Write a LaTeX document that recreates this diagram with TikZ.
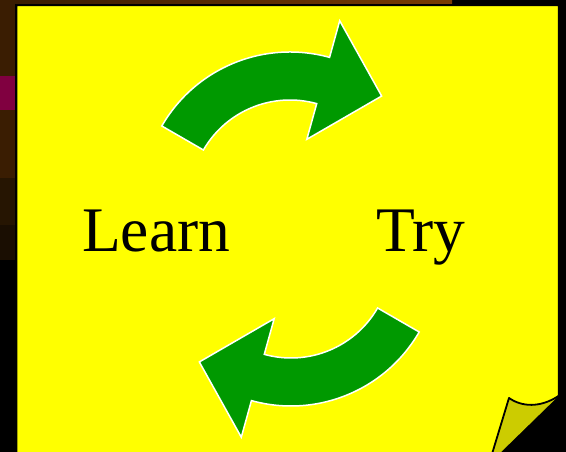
\documentclass[tikz,border=0pt]{standalone}
\usepackage{fontspec}
\setmainfont{Liberation Serif}
\definecolor{noteyellow}{HTML}{FFFF00}
\definecolor{curlolive}{HTML}{CCCC00}
\definecolor{arrowgreen}{HTML}{009900}
\definecolor{barbrown}{HTML}{3A1D02}
\definecolor{bardark}{HTML}{261502}
\definecolor{bardarker}{HTML}{1A0E02}
\definecolor{barplum}{HTML}{800040}
\definecolor{toporange}{HTML}{7A3C02}
\tikzset{
  cyclearrow/.style={fill=arrowgreen, draw=white, line width=1.5pt, line join=miter},
  bigword/.style={font=\fontsize{63.5}{70}\selectfont, inner sep=0pt, anchor=base west}
}
\begin{document}
\begin{tikzpicture}[x=1pt, y=1pt]
        \useasboundingbox (0,0) rectangle (566,452);
        \fill[black] (0,0) rectangle (566,452);
        % strips of the window behind the note
        \fill[barbrown] (0,376) rectangle (15,452);
        \fill[barplum] (0,342) rectangle (15,376);
        \fill[barbrown] (0,274) rectangle (15,342);
        \fill[bardark] (0,227) rectangle (15,274);
        \fill[bardarker] (0,192) rectangle (15,227);
        \shade[left color=barbrown, right color=toporange] (15,448.5) rectangle (452,452);
        % the note with its curled corner
        \draw[line width=1.5pt, fill=noteyellow] (16.5,-2) -- (16.5,446.5) -- (558.5,446.5) -- (558.5,56) -- (496,-2) -- cycle;
        \fill[curlolive] (509,54) .. controls (522,45) and (540,44) .. (558.5,56) -- (499,-2) -- (492,-2) -- cycle;
        \draw[line width=1.8pt, line join=round] (492,-2) -- (509,54) .. controls (522,45) and (540,44) .. (558.5,56);
        % arrows
        \coordinate (hub) at (290.5,223);
        \begin{scope}[shift={(290,252)}]
            \draw[cyclearrow] (150:148) arc[start angle=150, end angle=74.5, radius=148] -- (74.5:186) -- (48.6:138.6) -- (74.5:63) -- (74.5:100) arc[start angle=74.5, end angle=150, radius=100] -- cycle;
        \end{scope}
        \begin{scope}[rotate around={180:(hub)}, shift={(290,252)}]
            \draw[cyclearrow] (150:148) arc[start angle=150, end angle=74.5, radius=148] -- (74.5:186) -- (48.6:138.6) -- (74.5:63) -- (74.5:100) arc[start angle=74.5, end angle=150, radius=100] -- cycle;
        \end{scope}
        \node[bigword] (learn) at (82,200.3) {Learn};
        \node[bigword] (try) at (376,200.3) {Try};
    \end{tikzpicture}
\end{document}
